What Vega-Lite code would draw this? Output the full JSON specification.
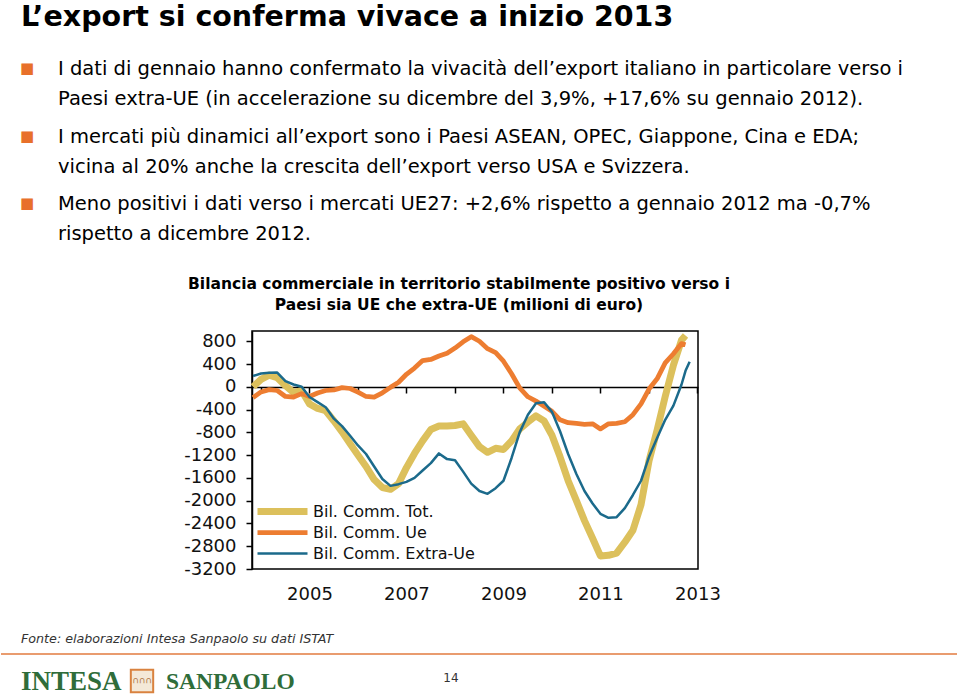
{
  "$schema": "https://vega.github.io/schema/vega-lite/v6.json",
  "background": "white",
  "padding": {"top": 2, "left": 0, "right": 0, "bottom": 0},
  "spacing": 0,
  "bounds": "flush",
  "center": true,
  "title": {
    "text": "L’export si conferma vivace a inizio 2013",
    "anchor": "start",
    "frame": "group",
    "font": "DejaVu Sans",
    "fontSize": 28.5,
    "fontWeight": "bold",
    "color": "#000000",
    "dx": 20,
    "offset": 28
  },
  "config": {
    "view": {"stroke": null},
    "font": "DejaVu Sans"
  },
  "vconcat": [
    {
      "width": 948,
      "height": 271,
      "data": {
        "values": [
          {"paragrafo": 1, "testo": "I dati di gennaio hanno confermato la vivacità dell’export italiano in particolare verso i\nPaesi extra-UE (in accelerazione su dicembre del 3,9%, +17,6% su gennaio 2012)."},
          {"paragrafo": 2, "testo": "I mercati più dinamici all’export sono i Paesi ASEAN, OPEC, Giappone, Cina e EDA;\nvicina al 20% anche la crescita dell’export verso USA e Svizzera."},
          {"paragrafo": 3, "testo": "Meno positivi  i dati verso i mercati UE27: +2,6% rispetto a gennaio 2012 ma -0,7%\nrispetto a dicembre 2012."}
        ]
      },
      "encoding": {
        "y": {"field": "paragrafo", "type": "ordinal", "axis": null, "scale": {"type": "point", "range": [0, 135], "padding": 0}}
      },
      "layer": [
        {
          "mark": {"type": "text", "text": "■", "font": "DejaVu Sans", "fontSize": 15, "color": "#E8702A", "align": "left", "baseline": "top", "dx": 19, "dy": 1},
          "encoding": {"x": {"value": 0}}
        },
        {
          "mark": {"type": "text", "font": "DejaVu Sans", "fontSize": 19.5, "color": "#000000", "align": "left", "baseline": "top", "dx": 57, "lineBreak": "\n", "lineHeight": 30},
          "encoding": {"x": {"value": 0}, "text": {"field": "testo"}}
        }
      ]
    },
    {
      "width": 446,
      "height": 238,
      "view": {"stroke": "#000000", "strokeWidth": 1.5},
      "title": {
        "text": ["Bilancia commerciale in territorio stabilmente positivo verso i", "Paesi sia UE che extra-UE (milioni di euro)"],
        "anchor": "middle",
        "frame": "group",
        "font": "DejaVu Sans",
        "fontSize": 15.5,
        "fontWeight": "bold",
        "color": "#000000",
        "lineHeight": 21,
        "dx": -16,
        "offset": 18
      },
      "data": {
        "values": [
          {"serie": "Bil. Comm. Tot.", "mese": "2004-01-01", "valore": 0},
          {"serie": "Bil. Comm. Tot.", "mese": "2004-03-01", "valore": 130},
          {"serie": "Bil. Comm. Tot.", "mese": "2004-05-01", "valore": 205},
          {"serie": "Bil. Comm. Tot.", "mese": "2004-07-01", "valore": 160},
          {"serie": "Bil. Comm. Tot.", "mese": "2004-09-01", "valore": 20},
          {"serie": "Bil. Comm. Tot.", "mese": "2004-11-01", "valore": -100},
          {"serie": "Bil. Comm. Tot.", "mese": "2005-01-01", "valore": -70},
          {"serie": "Bil. Comm. Tot.", "mese": "2005-03-01", "valore": -300},
          {"serie": "Bil. Comm. Tot.", "mese": "2005-05-01", "valore": -380},
          {"serie": "Bil. Comm. Tot.", "mese": "2005-07-01", "valore": -420},
          {"serie": "Bil. Comm. Tot.", "mese": "2005-09-01", "valore": -600},
          {"serie": "Bil. Comm. Tot.", "mese": "2005-11-01", "valore": -790},
          {"serie": "Bil. Comm. Tot.", "mese": "2006-01-01", "valore": -1000},
          {"serie": "Bil. Comm. Tot.", "mese": "2006-03-01", "valore": -1200},
          {"serie": "Bil. Comm. Tot.", "mese": "2006-05-01", "valore": -1400},
          {"serie": "Bil. Comm. Tot.", "mese": "2006-07-01", "valore": -1630},
          {"serie": "Bil. Comm. Tot.", "mese": "2006-09-01", "valore": -1770},
          {"serie": "Bil. Comm. Tot.", "mese": "2006-11-01", "valore": -1800},
          {"serie": "Bil. Comm. Tot.", "mese": "2007-01-01", "valore": -1700},
          {"serie": "Bil. Comm. Tot.", "mese": "2007-03-01", "valore": -1420},
          {"serie": "Bil. Comm. Tot.", "mese": "2007-05-01", "valore": -1170},
          {"serie": "Bil. Comm. Tot.", "mese": "2007-07-01", "valore": -950},
          {"serie": "Bil. Comm. Tot.", "mese": "2007-09-01", "valore": -750},
          {"serie": "Bil. Comm. Tot.", "mese": "2007-11-01", "valore": -690},
          {"serie": "Bil. Comm. Tot.", "mese": "2008-01-01", "valore": -690},
          {"serie": "Bil. Comm. Tot.", "mese": "2008-03-01", "valore": -680},
          {"serie": "Bil. Comm. Tot.", "mese": "2008-05-01", "valore": -650},
          {"serie": "Bil. Comm. Tot.", "mese": "2008-07-01", "valore": -850},
          {"serie": "Bil. Comm. Tot.", "mese": "2008-09-01", "valore": -1050},
          {"serie": "Bil. Comm. Tot.", "mese": "2008-11-01", "valore": -1150},
          {"serie": "Bil. Comm. Tot.", "mese": "2009-01-01", "valore": -1080},
          {"serie": "Bil. Comm. Tot.", "mese": "2009-03-01", "valore": -1100},
          {"serie": "Bil. Comm. Tot.", "mese": "2009-05-01", "valore": -950},
          {"serie": "Bil. Comm. Tot.", "mese": "2009-07-01", "valore": -740},
          {"serie": "Bil. Comm. Tot.", "mese": "2009-09-01", "valore": -620},
          {"serie": "Bil. Comm. Tot.", "mese": "2009-11-01", "valore": -510},
          {"serie": "Bil. Comm. Tot.", "mese": "2010-01-01", "valore": -600},
          {"serie": "Bil. Comm. Tot.", "mese": "2010-03-01", "valore": -850},
          {"serie": "Bil. Comm. Tot.", "mese": "2010-05-01", "valore": -1230},
          {"serie": "Bil. Comm. Tot.", "mese": "2010-07-01", "valore": -1650},
          {"serie": "Bil. Comm. Tot.", "mese": "2010-09-01", "valore": -2000},
          {"serie": "Bil. Comm. Tot.", "mese": "2010-11-01", "valore": -2350},
          {"serie": "Bil. Comm. Tot.", "mese": "2011-01-01", "valore": -2660},
          {"serie": "Bil. Comm. Tot.", "mese": "2011-03-01", "valore": -2970},
          {"serie": "Bil. Comm. Tot.", "mese": "2011-05-01", "valore": -2960},
          {"serie": "Bil. Comm. Tot.", "mese": "2011-07-01", "valore": -2920},
          {"serie": "Bil. Comm. Tot.", "mese": "2011-09-01", "valore": -2730},
          {"serie": "Bil. Comm. Tot.", "mese": "2011-11-01", "valore": -2520},
          {"serie": "Bil. Comm. Tot.", "mese": "2012-01-01", "valore": -2070},
          {"serie": "Bil. Comm. Tot.", "mese": "2012-03-01", "valore": -1300},
          {"serie": "Bil. Comm. Tot.", "mese": "2012-05-01", "valore": -760},
          {"serie": "Bil. Comm. Tot.", "mese": "2012-07-01", "valore": -170},
          {"serie": "Bil. Comm. Tot.", "mese": "2012-09-01", "valore": 380},
          {"serie": "Bil. Comm. Tot.", "mese": "2012-11-01", "valore": 820},
          {"serie": "Bil. Comm. Tot.", "mese": "2012-12-01", "valore": 900},
          {"serie": "Bil. Comm. Ue", "mese": "2004-01-01", "valore": -190},
          {"serie": "Bil. Comm. Ue", "mese": "2004-03-01", "valore": -90},
          {"serie": "Bil. Comm. Ue", "mese": "2004-05-01", "valore": -50},
          {"serie": "Bil. Comm. Ue", "mese": "2004-07-01", "valore": -65},
          {"serie": "Bil. Comm. Ue", "mese": "2004-09-01", "valore": -170},
          {"serie": "Bil. Comm. Ue", "mese": "2004-11-01", "valore": -180},
          {"serie": "Bil. Comm. Ue", "mese": "2005-01-01", "valore": -120},
          {"serie": "Bil. Comm. Ue", "mese": "2005-03-01", "valore": -170},
          {"serie": "Bil. Comm. Ue", "mese": "2005-05-01", "valore": -110},
          {"serie": "Bil. Comm. Ue", "mese": "2005-07-01", "valore": -65},
          {"serie": "Bil. Comm. Ue", "mese": "2005-09-01", "valore": -55},
          {"serie": "Bil. Comm. Ue", "mese": "2005-11-01", "valore": -15},
          {"serie": "Bil. Comm. Ue", "mese": "2006-01-01", "valore": -30},
          {"serie": "Bil. Comm. Ue", "mese": "2006-03-01", "valore": -95},
          {"serie": "Bil. Comm. Ue", "mese": "2006-05-01", "valore": -170},
          {"serie": "Bil. Comm. Ue", "mese": "2006-07-01", "valore": -180},
          {"serie": "Bil. Comm. Ue", "mese": "2006-09-01", "valore": -105},
          {"serie": "Bil. Comm. Ue", "mese": "2006-11-01", "valore": -10},
          {"serie": "Bil. Comm. Ue", "mese": "2007-01-01", "valore": 80},
          {"serie": "Bil. Comm. Ue", "mese": "2007-03-01", "valore": 220},
          {"serie": "Bil. Comm. Ue", "mese": "2007-05-01", "valore": 330},
          {"serie": "Bil. Comm. Ue", "mese": "2007-07-01", "valore": 460},
          {"serie": "Bil. Comm. Ue", "mese": "2007-09-01", "valore": 480},
          {"serie": "Bil. Comm. Ue", "mese": "2007-11-01", "valore": 540},
          {"serie": "Bil. Comm. Ue", "mese": "2008-01-01", "valore": 590},
          {"serie": "Bil. Comm. Ue", "mese": "2008-03-01", "valore": 680},
          {"serie": "Bil. Comm. Ue", "mese": "2008-05-01", "valore": 790},
          {"serie": "Bil. Comm. Ue", "mese": "2008-07-01", "valore": 880},
          {"serie": "Bil. Comm. Ue", "mese": "2008-09-01", "valore": 800},
          {"serie": "Bil. Comm. Ue", "mese": "2008-11-01", "valore": 670},
          {"serie": "Bil. Comm. Ue", "mese": "2009-01-01", "valore": 600},
          {"serie": "Bil. Comm. Ue", "mese": "2009-03-01", "valore": 450},
          {"serie": "Bil. Comm. Ue", "mese": "2009-05-01", "valore": 230},
          {"serie": "Bil. Comm. Ue", "mese": "2009-07-01", "valore": -20},
          {"serie": "Bil. Comm. Ue", "mese": "2009-09-01", "valore": -175},
          {"serie": "Bil. Comm. Ue", "mese": "2009-11-01", "valore": -250},
          {"serie": "Bil. Comm. Ue", "mese": "2010-01-01", "valore": -340},
          {"serie": "Bil. Comm. Ue", "mese": "2010-03-01", "valore": -430},
          {"serie": "Bil. Comm. Ue", "mese": "2010-05-01", "valore": -580},
          {"serie": "Bil. Comm. Ue", "mese": "2010-07-01", "valore": -630},
          {"serie": "Bil. Comm. Ue", "mese": "2010-09-01", "valore": -643},
          {"serie": "Bil. Comm. Ue", "mese": "2010-11-01", "valore": -660},
          {"serie": "Bil. Comm. Ue", "mese": "2011-01-01", "valore": -650},
          {"serie": "Bil. Comm. Ue", "mese": "2011-03-01", "valore": -740},
          {"serie": "Bil. Comm. Ue", "mese": "2011-05-01", "valore": -650},
          {"serie": "Bil. Comm. Ue", "mese": "2011-07-01", "valore": -643},
          {"serie": "Bil. Comm. Ue", "mese": "2011-09-01", "valore": -614},
          {"serie": "Bil. Comm. Ue", "mese": "2011-11-01", "valore": -490},
          {"serie": "Bil. Comm. Ue", "mese": "2012-01-01", "valore": -300},
          {"serie": "Bil. Comm. Ue", "mese": "2012-03-01", "valore": -40},
          {"serie": "Bil. Comm. Ue", "mese": "2012-05-01", "valore": 140},
          {"serie": "Bil. Comm. Ue", "mese": "2012-07-01", "valore": 420},
          {"serie": "Bil. Comm. Ue", "mese": "2012-09-01", "valore": 580},
          {"serie": "Bil. Comm. Ue", "mese": "2012-11-01", "valore": 760},
          {"serie": "Bil. Comm. Ue", "mese": "2012-12-01", "valore": 740},
          {"serie": "Bil. Comm. Extra-Ue", "mese": "2004-01-01", "valore": 190},
          {"serie": "Bil. Comm. Extra-Ue", "mese": "2004-03-01", "valore": 234},
          {"serie": "Bil. Comm. Extra-Ue", "mese": "2004-05-01", "valore": 245},
          {"serie": "Bil. Comm. Extra-Ue", "mese": "2004-07-01", "valore": 250},
          {"serie": "Bil. Comm. Extra-Ue", "mese": "2004-09-01", "valore": 100},
          {"serie": "Bil. Comm. Extra-Ue", "mese": "2004-11-01", "valore": 40},
          {"serie": "Bil. Comm. Extra-Ue", "mese": "2005-01-01", "valore": 0},
          {"serie": "Bil. Comm. Extra-Ue", "mese": "2005-03-01", "valore": -180},
          {"serie": "Bil. Comm. Extra-Ue", "mese": "2005-05-01", "valore": -270},
          {"serie": "Bil. Comm. Extra-Ue", "mese": "2005-07-01", "valore": -360},
          {"serie": "Bil. Comm. Extra-Ue", "mese": "2005-09-01", "valore": -560},
          {"serie": "Bil. Comm. Extra-Ue", "mese": "2005-11-01", "valore": -690},
          {"serie": "Bil. Comm. Extra-Ue", "mese": "2006-01-01", "valore": -860},
          {"serie": "Bil. Comm. Extra-Ue", "mese": "2006-03-01", "valore": -1030},
          {"serie": "Bil. Comm. Extra-Ue", "mese": "2006-05-01", "valore": -1180},
          {"serie": "Bil. Comm. Extra-Ue", "mese": "2006-07-01", "valore": -1400},
          {"serie": "Bil. Comm. Extra-Ue", "mese": "2006-09-01", "valore": -1620},
          {"serie": "Bil. Comm. Extra-Ue", "mese": "2006-11-01", "valore": -1740},
          {"serie": "Bil. Comm. Extra-Ue", "mese": "2007-01-01", "valore": -1710},
          {"serie": "Bil. Comm. Extra-Ue", "mese": "2007-03-01", "valore": -1670},
          {"serie": "Bil. Comm. Extra-Ue", "mese": "2007-05-01", "valore": -1600},
          {"serie": "Bil. Comm. Extra-Ue", "mese": "2007-07-01", "valore": -1470},
          {"serie": "Bil. Comm. Extra-Ue", "mese": "2007-09-01", "valore": -1340},
          {"serie": "Bil. Comm. Extra-Ue", "mese": "2007-11-01", "valore": -1170},
          {"serie": "Bil. Comm. Extra-Ue", "mese": "2008-01-01", "valore": -1270},
          {"serie": "Bil. Comm. Extra-Ue", "mese": "2008-03-01", "valore": -1290},
          {"serie": "Bil. Comm. Extra-Ue", "mese": "2008-05-01", "valore": -1490},
          {"serie": "Bil. Comm. Extra-Ue", "mese": "2008-07-01", "valore": -1700},
          {"serie": "Bil. Comm. Extra-Ue", "mese": "2008-09-01", "valore": -1830},
          {"serie": "Bil. Comm. Extra-Ue", "mese": "2008-11-01", "valore": -1880},
          {"serie": "Bil. Comm. Extra-Ue", "mese": "2009-01-01", "valore": -1780},
          {"serie": "Bil. Comm. Extra-Ue", "mese": "2009-03-01", "valore": -1650},
          {"serie": "Bil. Comm. Extra-Ue", "mese": "2009-05-01", "valore": -1250},
          {"serie": "Bil. Comm. Extra-Ue", "mese": "2009-07-01", "valore": -800},
          {"serie": "Bil. Comm. Extra-Ue", "mese": "2009-09-01", "valore": -490},
          {"serie": "Bil. Comm. Extra-Ue", "mese": "2009-11-01", "valore": -290},
          {"serie": "Bil. Comm. Extra-Ue", "mese": "2010-01-01", "valore": -270},
          {"serie": "Bil. Comm. Extra-Ue", "mese": "2010-03-01", "valore": -440},
          {"serie": "Bil. Comm. Extra-Ue", "mese": "2010-05-01", "valore": -780},
          {"serie": "Bil. Comm. Extra-Ue", "mese": "2010-07-01", "valore": -1180},
          {"serie": "Bil. Comm. Extra-Ue", "mese": "2010-09-01", "valore": -1530},
          {"serie": "Bil. Comm. Extra-Ue", "mese": "2010-11-01", "valore": -1830},
          {"serie": "Bil. Comm. Extra-Ue", "mese": "2011-01-01", "valore": -2050},
          {"serie": "Bil. Comm. Extra-Ue", "mese": "2011-03-01", "valore": -2230},
          {"serie": "Bil. Comm. Extra-Ue", "mese": "2011-05-01", "valore": -2300},
          {"serie": "Bil. Comm. Extra-Ue", "mese": "2011-07-01", "valore": -2290},
          {"serie": "Bil. Comm. Extra-Ue", "mese": "2011-09-01", "valore": -2130},
          {"serie": "Bil. Comm. Extra-Ue", "mese": "2011-11-01", "valore": -1900},
          {"serie": "Bil. Comm. Extra-Ue", "mese": "2012-01-01", "valore": -1650},
          {"serie": "Bil. Comm. Extra-Ue", "mese": "2012-03-01", "valore": -1230},
          {"serie": "Bil. Comm. Extra-Ue", "mese": "2012-05-01", "valore": -900},
          {"serie": "Bil. Comm. Extra-Ue", "mese": "2012-07-01", "valore": -580},
          {"serie": "Bil. Comm. Extra-Ue", "mese": "2012-09-01", "valore": -330},
          {"serie": "Bil. Comm. Extra-Ue", "mese": "2012-11-01", "valore": 40},
          {"serie": "Bil. Comm. Extra-Ue", "mese": "2012-12-01", "valore": 280},
          {"serie": "Bil. Comm. Extra-Ue", "mese": "2013-01-01", "valore": 440}
        ]
      },
      "mark": {"type": "line", "strokeJoin": "round"},
      "encoding": {
        "x": {
          "field": "mese",
          "type": "temporal",
          "scale": {"domain": [{"year": 2003, "month": 12, "date": 24}, {"year": 2013, "month": 3, "date": 5}], "nice": false},
          "axis": {
            "title": null,
            "orient": "bottom",
            "offset": -182,
            "values": [
              {"year": 2004, "month": 3, "date": 1}, {"year": 2005, "month": 3, "date": 1}, {"year": 2006, "month": 3, "date": 1},
              {"year": 2007, "month": 3, "date": 1}, {"year": 2008, "month": 3, "date": 1}, {"year": 2009, "month": 3, "date": 1},
              {"year": 2010, "month": 3, "date": 1}, {"year": 2011, "month": 3, "date": 1}, {"year": 2012, "month": 3, "date": 1},
              {"year": 2013, "month": 3, "date": 1}
            ],
            "labelExpr": "year(datum.value) % 2 == 1 ? timeFormat(datum.value, '%Y') : ''",
            "labelFlush": false,
            "labelOverlap": false,
            "labelBound": false,
            "labelFont": "DejaVu Sans",
            "labelFontSize": 18,
            "labelColor": "#111111",
            "labelPadding": 192,
            "domainColor": "#000000",
            "domainWidth": 1.5,
            "tickColor": "#000000",
            "tickWidth": 1.5,
            "tickSize": 6,
            "grid": false
          }
        },
        "y": {
          "field": "valore",
          "type": "quantitative",
          "scale": {"domain": [-3200, 980], "nice": false, "zero": false},
          "axis": {
            "title": null,
            "values": [-3200, -2800, -2400, -2000, -1600, -1200, -800, -400, 0, 400, 800],
            "labelExpr": "'' + datum.value",
            "labelFont": "DejaVu Sans",
            "labelFontSize": 18,
            "labelColor": "#111111",
            "labelPadding": 10,
            "domainColor": "#000000",
            "domainWidth": 1.5,
            "tickColor": "#000000",
            "tickWidth": 1.5,
            "tickSize": 6,
            "grid": false
          }
        },
        "color": {
          "field": "serie",
          "type": "nominal",
          "scale": {"domain": ["Bil. Comm. Tot.", "Bil. Comm. Ue", "Bil. Comm. Extra-Ue"], "range": ["#DCC05C", "#ED7D31", "#1B6A8B"]},
          "legend": {
            "title": null,
            "orient": "none",
            "legendX": 273.5,
            "legendY": 443.5,
            "symbolType": "M-12.5,0H12.5",
            "symbolSize": 16,
            "labelOffset": 22.5,
            "labelFont": "DejaVu Sans",
            "labelFontSize": 16,
            "labelColor": "#111111",
            "labelLimit": 400,
            "rowPadding": 5,
            "encode": {"symbols": {"update": {"strokeJoin": {"value": "round"}}}}
          }
        },
        "strokeWidth": {
          "field": "serie",
          "type": "ordinal",
          "scale": {"domain": ["Bil. Comm. Tot.", "Bil. Comm. Ue", "Bil. Comm. Extra-Ue"], "range": [7, 2.5, 3]},
          "legend": {
            "title": null,
            "orient": "none",
            "legendX": 273.5,
            "legendY": 443.5,
            "symbolType": "M-12.5,0H12.5",
            "symbolSize": 16,
            "labelOffset": 22.5,
            "labelFont": "DejaVu Sans",
            "labelFontSize": 16,
            "labelColor": "#111111",
            "labelLimit": 400,
            "rowPadding": 5,
            "encode": {"symbols": {"update": {"strokeJoin": {"value": "round"}}}}
          }
        }
      }
    },
    {
      "width": 948,
      "height": 130,
      "layer": [
        {
          "data": {"values": [{"testo": "Fonte: elaborazioni Intesa Sanpaolo su dati ISTAT"}]},
          "mark": {"type": "text", "font": "DejaVu Sans", "fontSize": 12.7, "fontStyle": "italic", "color": "#333333", "align": "left", "baseline": "middle", "dx": 20},
          "encoding": {"x": {"value": 0}, "y": {"value": 70}, "text": {"field": "testo"}}
        },
        {
          "data": {"values": [{}]},
          "mark": {"type": "rule", "color": "#E27B3F", "strokeWidth": 1.5},
          "encoding": {"x": {"value": 0}, "x2": {"value": 956}, "y": {"value": 85}}
        },
        {
          "data": {"values": [{"testo": "INTESA"}]},
          "mark": {"type": "text", "font": "Liberation Serif", "fontSize": 27, "fontWeight": "bold", "color": "#2F6D3A", "align": "left", "baseline": "middle", "dx": 20},
          "encoding": {"x": {"value": 0}, "y": {"value": 113}, "text": {"field": "testo"}}
        },
        {
          "data": {"values": [{}]},
          "mark": {"type": "point", "shape": "square", "size": 500, "filled": true, "fill": "#F4E9D8", "stroke": "#D9823F", "strokeWidth": 2, "opacity": 1},
          "encoding": {"x": {"value": 141}, "y": {"value": 112}}
        },
        {
          "data": {"values": [{"testo": "∩∩∩"}]},
          "mark": {"type": "text", "font": "DejaVu Sans", "fontSize": 9, "color": "#B27A4A", "align": "center", "baseline": "middle"},
          "encoding": {"x": {"value": 141}, "y": {"value": 111}, "text": {"field": "testo"}}
        },
        {
          "data": {"values": [{"testo": "SANPAOLO"}]},
          "mark": {"type": "text", "font": "Liberation Serif", "fontSize": 23.5, "fontWeight": "bold", "color": "#2F6D3A", "align": "left", "baseline": "middle", "dx": 165},
          "encoding": {"x": {"value": 0}, "y": {"value": 113}, "text": {"field": "testo"}}
        },
        {
          "data": {"values": [{"testo": "14"}]},
          "mark": {"type": "text", "font": "DejaVu Sans", "fontSize": 12, "color": "#333333", "align": "center", "baseline": "middle"},
          "encoding": {"x": {"value": 450}, "y": {"value": 109}, "text": {"field": "testo"}}
        }
      ]
    }
  ]
}
